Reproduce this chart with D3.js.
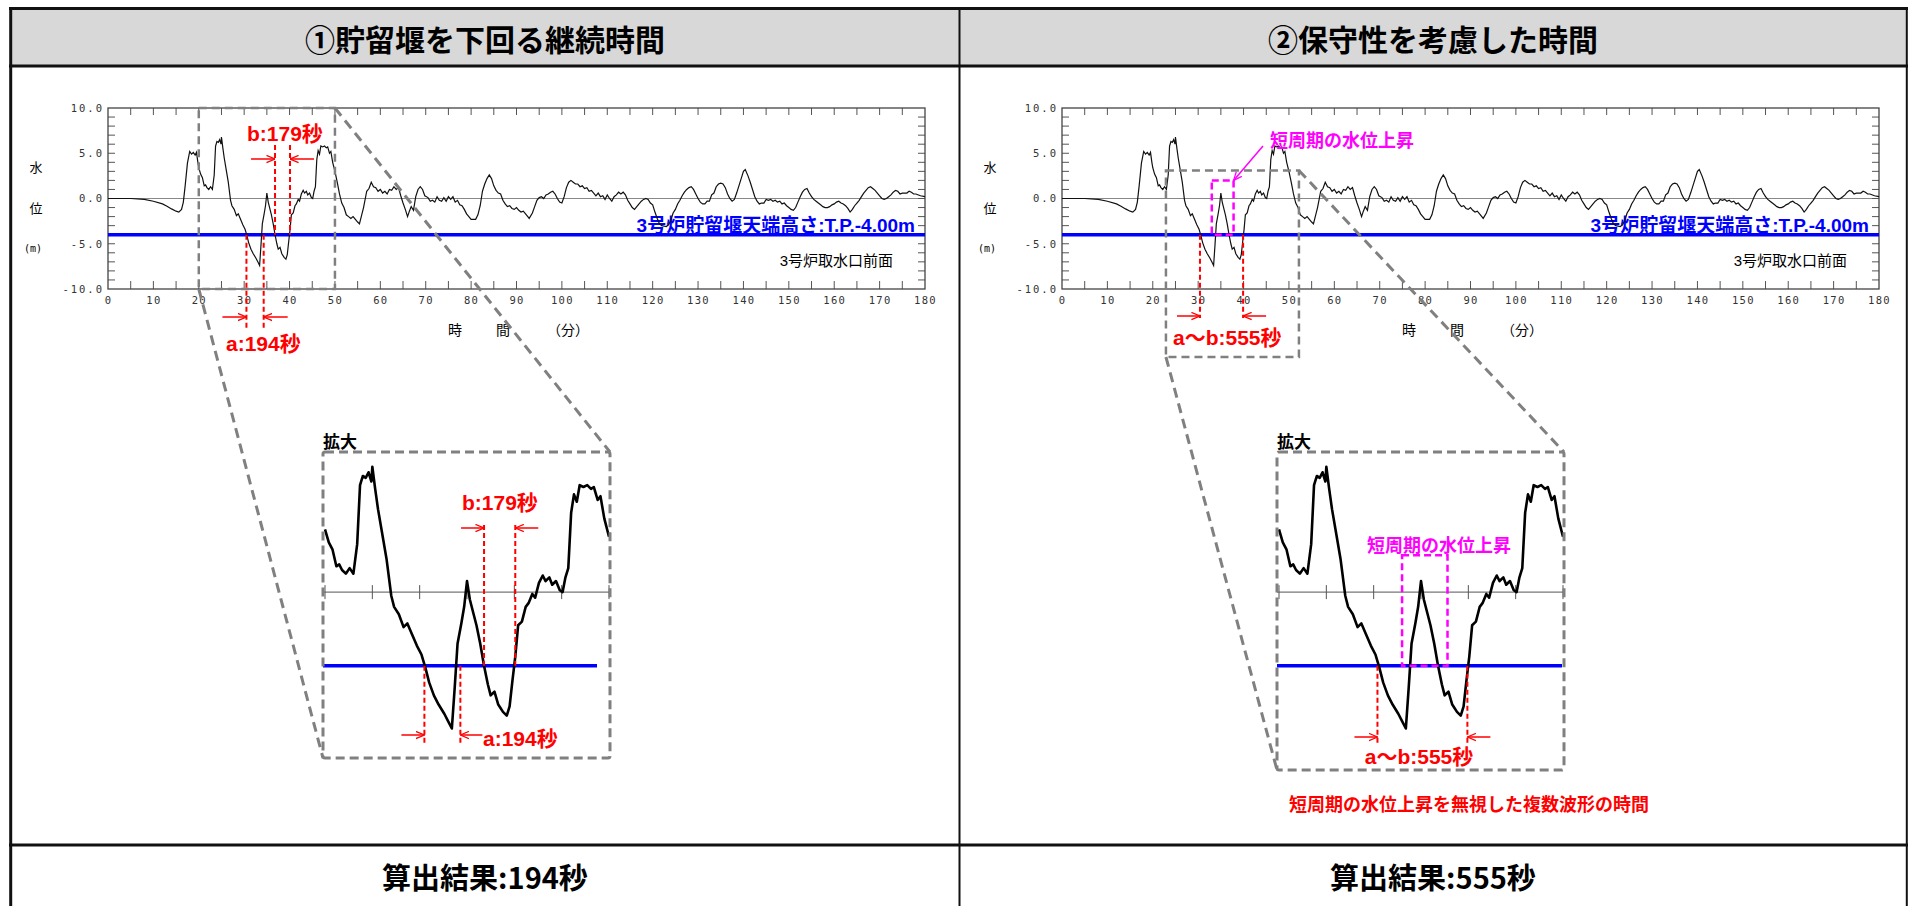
<!DOCTYPE html>
<html><head><meta charset="utf-8">
<script src="https://cdn.jsdelivr.net/npm/d3@7"></script>
<style>
html,body{margin:0;padding:0;background:#fff;}
svg{display:block;}
</style></head><body>
<svg id="chart" width="1908" height="906"></svg>
<script>
// ---------------- DATA ----------------
const timeMin = [0,5,8,10,12,13,14,15,15.6,16.2,16.6,17.0,17.5,18.0,18.4,18.8,19.2,19.5,19.8,20.0,20.4,20.8,21.2,21.5,21.8,22.2,22.6,23.0,23.4,23.7,24.0,24.3,24.6,24.9,25.0,25.3,25.6,26.0,26.5,27.0,27.3,27.8,28.3,28.7,29.2,29.7,30.2,30.6,31.0,31.5,32.0,32.6,33.0,33.4,33.7,34.0,34.4,34.7,35.0,35.3,35.7,36.0,36.4,36.8,37.2,37.5,37.9,38.3,38.8,39.2,39.5,39.8,40.1,40.4,40.8,41.2,41.5,41.9,42.2,42.6,43.0,43.3,43.7,44.0,44.4,44.8,45.1,45.4,45.7,46.0,46.3,46.6,46.9,47.3,47.7,48.1,48.4,48.8,49.1,49.5,50.0,50.5,51.0,51.5,52.0,52.5,53.0,53.5,54.0,54.5,55.0,55.4,55.8,56.3,57.0,57.5,58.0,58.5,59.0,59.5,60.0,60.5,61.0,61.5,62.0,62.5,63.0,63.5,64.0,64.5,65.0,65.5,66.0,66.4,66.8,67.3,67.8,68.3,68.8,69.3,69.8,70.5,71.0,71.5,72.0,72.5,73.0,73.5,74.0,74.5,75.0,75.5,76.0,76.5,77.0,77.5,78.0,78.5,79.0,79.5,80.0,81.0,81.5,82.0,82.5,83.0,83.5,84.0,84.5,85.0,85.5,86.0,86.5,87.0,87.5,88.0,88.5,89.0,89.5,90.0,90.5,91.0,91.5,92.0,92.8,93.5,94.0,94.5,95.0,95.5,96.0,96.5,97.0,97.5,98.0,98.5,99.0,99.5,100.0,100.5,101.0,101.5,102.0,102.5,103.0,103.5,104.0,104.5,105.0,105.5,106.0,106.5,107.0,107.5,108.0,108.5,109.0,109.5,110.0,110.5,111.0,111.5,112.0,112.5,113.0,113.5,114.0,114.5,115.0,115.5,116.0,116.5,117.0,117.5,118.0,118.5,119.0,119.5,120.0,120.5,121.0,121.5,122.0,123.0,123.5,124.0,124.5,125.0,125.5,126.0,126.5,127.0,127.5,128.0,128.5,129.0,129.5,130.0,130.5,131.0,131.5,132.0,132.5,133.0,133.5,134.0,134.5,135.0,135.5,136.0,136.5,137.0,137.5,138.0,138.5,139.0,139.5,140.0,140.4,141.0,141.5,142.0,142.5,143.0,143.5,144.0,144.5,145.0,145.5,146.0,146.5,147.0,147.5,148.0,148.5,149.0,149.5,150.0,150.5,151.0,151.5,152.0,152.5,153.0,153.5,154.0,154.5,155.0,155.5,156.0,156.5,157.0,157.5,158.0,158.5,159.0,159.5,160.0,160.5,161.0,161.5,162.0,162.5,163.0,163.5,164.0,164.5,165.0,165.5,166.0,166.5,167.0,167.5,168.0,168.5,169.0,169.5,170.0,170.5,171.0,171.5,172.0,172.5,173.0,173.5,174.0,174.5,175.0,175.5,176.0,176.5,177.0,177.5,178.0,179.0,180.0];
const waterLevel = [0.0,0.0,-0.1,-0.3,-0.6,-0.85,-1.15,-1.4,-1.5,-1.2,-0.4,1.4,3.9,5.2,4.9,5.1,4.8,5.1,4.0,3.4,2.7,2.3,1.4,1.5,1.2,1.0,1.3,1.0,2.6,5.8,6.3,6.2,6.5,6.0,6.8,5.6,4.5,3.3,1.8,-0.2,-0.8,-1.2,-1.9,-1.7,-2.3,-2.9,-3.4,-4.1,-4.9,-5.6,-6.1,-6.6,-7.0,-7.4,-5.2,-2.8,-1.7,-0.8,0.6,-0.4,-1.2,-1.8,-2.8,-4.0,-5.0,-5.6,-5.4,-6.1,-6.5,-6.7,-6.2,-4.8,-3.5,-1.8,-1.6,-0.8,-0.6,-0.1,-0.3,0.5,0.9,0.6,0.8,0.4,0.6,0.1,0.0,0.8,1.3,4.3,5.3,4.9,5.8,5.7,5.8,5.6,5.7,5.0,5.2,4.0,3.0,1.8,0.5,-0.5,-1.0,-1.8,-2.0,-2.2,-2.0,-2.3,-2.6,-2.8,-2.0,-1.0,0.8,1.1,1.8,1.3,1.2,0.8,1.0,0.6,0.8,0.5,1.0,0.9,1.3,1.0,1.2,0.3,-0.5,-1.2,-2.0,-1.4,-0.9,-1.3,0.2,1.0,1.3,1.0,0.3,0.1,-0.3,-0.2,-0.4,0.2,-0.2,-0.3,0.1,-0.3,0.2,-0.1,0.2,-0.4,-0.2,-0.7,-0.8,-1.2,-1.7,-2.0,-2.3,-2.3,-1.8,-0.8,0.8,1.6,2.2,2.6,2.2,1.4,0.9,0.6,0.5,-0.2,-0.6,-0.9,-0.8,-1.1,-1.2,-1.0,-1.3,-1.5,-1.4,-1.7,-2.2,-1.6,-0.9,-0.2,0.1,0.2,0.0,0.4,0.5,0.7,0.8,0.5,0.0,-0.4,-0.5,0.2,1.2,1.8,2.0,1.8,1.6,1.6,1.3,1.4,1.1,1.2,0.8,0.9,0.6,0.3,0.6,0.2,0.3,-0.1,0.4,0.0,-0.3,0.2,0.4,0.7,0.5,0.7,0.4,-0.2,-0.6,-1.0,-1.2,-0.9,-0.6,-0.3,-0.1,0.0,-0.1,-0.5,-0.7,-1.5,-2.2,-2.8,-3.0,-3.1,-2.9,-2.4,-1.6,-1.2,-0.6,-0.2,0.3,0.7,1.0,1.2,1.3,1.0,0.5,0.0,-0.4,-0.6,-0.6,-0.3,-0.3,0.4,0.6,1.3,1.6,1.7,1.6,1.2,0.5,0.0,-0.3,-0.1,0.6,1.4,2.2,3.0,3.2,2.5,1.8,1.0,0.2,-0.3,-0.6,-0.5,-0.5,-0.1,-0.2,-0.1,-0.3,-0.2,-0.4,-0.3,-0.6,-0.5,-0.8,-1.0,-1.2,-1.3,-1.0,-0.4,0.2,0.7,1.0,1.1,0.6,0.2,-0.1,-0.3,-0.5,-0.7,-0.9,-1.0,-1.0,-0.9,-0.7,-0.6,-0.4,-0.3,-0.5,-0.6,-0.8,-1.1,-1.5,-1.2,-0.8,-0.5,-0.2,0.2,0.6,0.9,1.2,1.3,1.1,0.9,0.6,0.3,0.0,-0.1,0.0,0.2,0.4,0.7,0.9,0.8,0.5,0.6,0.6,0.6,0.8,0.7,0.5,0.5,0.3,0.2];
const xTickValues = [0,10,20,30,40,50,60,70,80,90,100,110,120,130,140,150,160,170,180];
const yTickValues = [10,5,0,-5,-10];
const yTickLabels = ["10.0","5.0","0.0","-5.0","-10.0"];
const weirLevel = -4.0;
const panelTitles = ["①貯留堰を下回る継続時間","②保守性を考慮した時間"];
const resultLabels = ["算出結果:194秒","算出結果:555秒"];
const weirLabel = "3号炉貯留堰天端高さ:T.P.-4.00m";
const stationLabel = "3号炉取水口前面";
const aTimes = [30.5, 34.3];      // a: 194秒
const bTimes = [36.8, 40.1];      // b: 179秒
const abTimes = [30.4, 39.9];     // a〜b: 555秒
const shortRiseTimes = [33.0, 37.8];
const shortRiseTop = 2.0;
const zoomRange1 = [20, 50];
const zoomRange2 = [22.9, 52.2];
const zoomTop2 = 3.1;
const enlargeDomain = [20, 50];

// ---------------- DRAWING ----------------
const svg = d3.select("#chart");
const CJK = '"Noto Sans CJK JP","Noto Sans",sans-serif';
const LAT = '"Liberation Sans","Noto Sans CJK JP",sans-serif';
const MONO = '"DejaVu Sans Mono","Liberation Mono",monospace';
const RED = "#ff0000", MAG = "#ff00ff", BLUE = "#0000ff", GRAY = "#808080";

const defs = svg.append("defs");
function mk(id, color){
  defs.append("marker").attr("id", id).attr("viewBox","0 0 10 10")
    .attr("refX",9.5).attr("refY",5).attr("markerWidth",9).attr("markerHeight",9)
    .attr("markerUnits","userSpaceOnUse").attr("orient","auto")
    .append("path").attr("d","M0,1 L9.5,5 L0,9").attr("fill","none")
    .attr("stroke",color).attr("stroke-width",1.4);
}
mk("arrRed", RED); mk("arrMag", MAG);

const data = timeMin.map((t,i)=>({t, v: waterLevel[i]}));

// table
svg.append("rect").attr("x",11).attr("y",9).attr("width",1896).attr("height",56).attr("fill","#d8d8d8");
function hl(y,x1,x2,w){ svg.append("line").attr("x1",x1).attr("x2",x2).attr("y1",y).attr("y2",y).attr("stroke","#111").attr("stroke-width",w); }
function vl(x,y1,y2,w){ svg.append("line").attr("x1",x).attr("x2",x).attr("y1",y1).attr("y2",y2).attr("stroke","#111").attr("stroke-width",w); }
hl(8.5, 9, 1908, 3);
hl(66, 9, 1908, 3);
hl(845, 9, 1908, 3);
vl(10.7, 7, 906, 3);
vl(1906.8, 7, 906, 2);
vl(959.5, 7, 906, 2);

panelTitles.forEach((t,i)=>{
  svg.append("text").attr("x", i===0?485:1433).attr("y",38).attr("text-anchor","middle")
    .attr("dominant-baseline","central").attr("font-family",CJK).attr("font-weight","bold")
    .attr("font-size",30).attr("fill","#000").text(t);
});
resultLabels.forEach((t,i)=>{
  svg.append("text").attr("x", i===0?485:1433).attr("y",876).attr("text-anchor","middle")
    .attr("dominant-baseline","central").attr("font-family",CJK).attr("font-weight","bold")
    .attr("font-size",29).attr("fill","#000").text(t);
});

function txt(g, s, x, y, size, color, anchor, weight, fam){
  return g.append("text").attr("x",x).attr("y",y).attr("text-anchor",anchor||"start")
    .attr("dominant-baseline","central").attr("font-family",fam||CJK)
    .attr("font-weight",weight||"normal").attr("font-size",size).attr("fill",color||"#000").text(s);
}
function vdash(g, x, y1, y2){
  g.append("line").attr("x1",x).attr("x2",x).attr("y1",y1).attr("y2",y2)
    .attr("stroke",RED).attr("stroke-width",2).attr("stroke-dasharray","5,3");
}
function arrow(g, x1, y1, x2, y2, color, marker){
  g.append("line").attr("x1",x1).attr("y1",y1).attr("x2",x2).attr("y2",y2)
    .attr("stroke",color).attr("stroke-width",1.5).attr("marker-end",`url(#${marker})`);
}
function grayDash(g, x1,y1,x2,y2, w, da){
  g.append("line").attr("x1",x1).attr("y1",y1).attr("x2",x2).attr("y2",y2)
    .attr("stroke",GRAY).attr("stroke-width",w).attr("stroke-dasharray",da);
}

function drawPanel(idx){
  const g = svg.append("g").attr("transform",`translate(${idx*954},0)`);
  const x = d3.scaleLinear().domain([0,180]).range([108,925]);
  const y = d3.scaleLinear().domain([-10,10]).range([289,108]);

  // zero line
  g.append("line").attr("x1",x(0)).attr("x2",x(180)).attr("y1",y(0)).attr("y2",y(0))
    .attr("stroke","#888").attr("stroke-width",1);
  // inward ticks
  const tk = g.append("g").attr("stroke","#555").attr("stroke-width",1);
  d3.range(5,180,5).forEach(t=>{
    tk.append("line").attr("x1",x(t)).attr("x2",x(t)).attr("y1",y(-10)).attr("y2",y(-10)-8);
    tk.append("line").attr("x1",x(t)).attr("x2",x(t)).attr("y1",y(10)).attr("y2",y(10)+7);
  });
  d3.range(-9,10,1).forEach(v=>{
    tk.append("line").attr("x1",x(0)).attr("x2",x(0)+7).attr("y1",y(v)).attr("y2",y(v));
    tk.append("line").attr("x1",x(180)).attr("x2",x(180)-7).attr("y1",y(v)).attr("y2",y(v));
  });
  g.append("rect").attr("x",x(0)).attr("y",y(10)).attr("width",x(180)-x(0)).attr("height",y(-10)-y(10))
    .attr("fill","none").attr("stroke","#444").attr("stroke-width",1.3);

  // axes labels
  const xa = g.append("g").attr("transform",`translate(0,${y(-10)})`)
    .call(d3.axisBottom(x).tickValues(xTickValues).tickSize(0).tickPadding(8).tickFormat(d=>String(d)));
  xa.select(".domain").remove();
  xa.selectAll("text").attr("font-family",MONO).attr("font-size",10.5).attr("fill","#333")
    .style("letter-spacing","1.3px");
  const ya = g.append("g").attr("transform",`translate(${x(0)},0)`)
    .call(d3.axisLeft(y).tickValues(yTickValues).tickSize(0).tickPadding(4).tickFormat((d,i)=>yTickLabels[i]));
  ya.select(".domain").remove();
  ya.selectAll("text").attr("font-family",MONO).attr("font-size",10.5).attr("fill","#333")
    .style("letter-spacing","2px");

  txt(g,"水",36,166,13,"#000","middle");
  txt(g,"位",36,207,13,"#000","middle");
  txt(g,"(m)",33,248,10,"#000","middle","normal",MONO);
  txt(g,"時",455,329,14,"#000","middle");
  txt(g,"間",503,329,14,"#000","middle");
  txt(g,"（分）",568,329,14,"#000","middle");

  // weir line
  g.append("line").attr("x1",x(0)).attr("x2",x(180)).attr("y1",y(weirLevel)).attr("y2",y(weirLevel))
    .attr("stroke",BLUE).attr("stroke-width",3.5);
  txt(g,weirLabel,915,225,19,BLUE,"end","bold",LAT);
  txt(g,stationLabel,893,260,15,"#000","end","normal",LAT);

  // water level
  const line = d3.line().x(d=>x(d.t)).y(d=>y(d.v));
  g.append("path").datum(data).attr("d",line).attr("fill","none").attr("stroke","#111").attr("stroke-width",1.2);

  // enlarged scales
  const xe = d3.scaleLinear().domain(enlargeDomain).range([325,609]);
  const ye = d3.scaleLinear().domain([-9,7.6]).range([758,452]);
  const boxBottom = idx===0 ? 758 : 770;

  // enlarged content
  const eg = g.append("g");
  eg.append("line").attr("x1",323).attr("x2",610).attr("y1",ye(0)).attr("y2",ye(0)).attr("stroke","#555").attr("stroke-width",1);
  d3.range(enlargeDomain[0], enlargeDomain[1]+1, 5).forEach(t=>{
    eg.append("line").attr("x1",xe(t)).attr("x2",xe(t)).attr("y1",ye(0)-7).attr("y2",ye(0)+7).attr("stroke","#555").attr("stroke-width",1);
  });
  eg.append("line").attr("x1",323).attr("x2", idx===0?597:608).attr("y1",ye(weirLevel)).attr("y2",ye(weirLevel))
    .attr("stroke",BLUE).attr("stroke-width",3.5);
  const eline = d3.line().x(d=>xe(d.t)).y(d=>ye(d.v));
  eg.append("path").datum(data.filter(d=>d.t>=enlargeDomain[0] && d.t<=enlargeDomain[1]))
    .attr("d",eline).attr("fill","none").attr("stroke","#000").attr("stroke-width",2.6).attr("stroke-linejoin","round");
  eg.append("rect").attr("x",323).attr("y",452).attr("width",287).attr("height",boxBottom-452).attr("rx",2)
    .attr("fill","none").attr("stroke",GRAY).attr("stroke-width",3).attr("stroke-dasharray","9,5");
  txt(g,"拡大",323,440,17,"#000","start","bold");

  if(idx===0){
    // zoom box in main plot
    g.append("rect").attr("x",x(zoomRange1[0])).attr("y",y(10)).attr("width",x(zoomRange1[1])-x(zoomRange1[0]))
      .attr("height",y(-10)-y(10)).attr("fill","none").attr("stroke",GRAY).attr("stroke-width",2.5).attr("stroke-dasharray","8,5");
    grayDash(g, x(zoomRange1[1]), y(10), 610, 452, 3, "10,6");
    grayDash(g, x(zoomRange1[0]), y(-10), 323, 758, 3, "10,6");
    // a (main)
    aTimes.forEach(t=>vdash(g, x(t), y(weirLevel), 328));
    arrow(g, x(aTimes[0])-24, 317, x(aTimes[0]), 317, RED, "arrRed");
    arrow(g, x(aTimes[1])+24, 317, x(aTimes[1]), 317, RED, "arrRed");
    txt(g,"a:194秒",226,343,21,RED,"start","bold",LAT);
    // b (main)
    bTimes.forEach(t=>vdash(g, x(t), 145, y(weirLevel)));
    arrow(g, x(bTimes[0])-24, 159, x(bTimes[0]), 159, RED, "arrRed");
    arrow(g, x(bTimes[1])+24, 159, x(bTimes[1]), 159, RED, "arrRed");
    txt(g,"b:179秒",247,133,21,RED,"start","bold",LAT);
    // enlarged a
    aTimes.forEach(t=>vdash(g, xe(t), ye(weirLevel), 743));
    arrow(g, xe(aTimes[0])-23, 735, xe(aTimes[0]), 735, RED, "arrRed");
    arrow(g, xe(aTimes[1])+22, 735, xe(aTimes[1]), 735, RED, "arrRed");
    txt(g,"a:194秒",483,738,21,RED,"start","bold",LAT);
    // enlarged b
    bTimes.forEach(t=>vdash(g, xe(t), 525, ye(weirLevel)));
    arrow(g, xe(bTimes[0])-23, 528, xe(bTimes[0]), 528, RED, "arrRed");
    arrow(g, xe(bTimes[1])+23, 528, xe(bTimes[1]), 528, RED, "arrRed");
    txt(g,"b:179秒",462,502,21,RED,"start","bold",LAT);
  } else {
    // zoom box (extends below the plot)
    const zx0 = x(zoomRange2[0]), zx1 = x(zoomRange2[1]), zy0 = y(zoomTop2), zy1 = 357;
    g.append("rect").attr("x",zx0).attr("y",zy0).attr("width",zx1-zx0).attr("height",zy1-zy0)
      .attr("fill","none").attr("stroke",GRAY).attr("stroke-width",2.5).attr("stroke-dasharray","8,5");
    grayDash(g, zx1, zy0, 610, 452, 3, "10,6");
    grayDash(g, zx0, zy1, 323, 770, 3, "10,6");
    // short-period rise (main)
    g.append("rect").attr("x",x(shortRiseTimes[0])).attr("y",y(shortRiseTop))
      .attr("width",x(shortRiseTimes[1])-x(shortRiseTimes[0])).attr("height",y(weirLevel)-y(shortRiseTop))
      .attr("fill","none").attr("stroke",MAG).attr("stroke-width",2.5).attr("stroke-dasharray","7,4");
    txt(g,"短周期の水位上昇",316,139,18,MAG,"start","bold");
    arrow(g, 309, 146, x(shortRiseTimes[1]), y(shortRiseTop), MAG, "arrMag");
    // a~b main
    abTimes.forEach(t=>vdash(g, x(t), y(weirLevel), 318));
    arrow(g, x(abTimes[0])-23, 316, x(abTimes[0]), 316, RED, "arrRed");
    arrow(g, x(abTimes[1])+23, 316, x(abTimes[1]), 316, RED, "arrRed");
    txt(g,"a〜b:555秒",219,337,21,RED,"start","bold",LAT);
    // enlarged
    g.append("rect").attr("x",xe(shortRiseTimes[0])).attr("y",ye(shortRiseTop))
      .attr("width",xe(shortRiseTimes[1])-xe(shortRiseTimes[0])).attr("height",ye(weirLevel)-ye(shortRiseTop))
      .attr("fill","none").attr("stroke",MAG).attr("stroke-width",2.5).attr("stroke-dasharray","7,4");
    txt(g,"短周期の水位上昇",485,544,18,MAG,"middle","bold");
    abTimes.forEach(t=>vdash(g, xe(t), ye(weirLevel), 743));
    arrow(g, xe(abTimes[0])-23, 737, xe(abTimes[0]), 737, RED, "arrRed");
    arrow(g, xe(abTimes[1])+23, 737, xe(abTimes[1]), 737, RED, "arrRed");
    txt(g,"a〜b:555秒",465,756,21,RED,"middle","bold",LAT);
    txt(g,"短周期の水位上昇を無視した複数波形の時間",515,803,18,RED,"middle","bold");
  }
}
drawPanel(0);
drawPanel(1);
</script>
</body></html>
